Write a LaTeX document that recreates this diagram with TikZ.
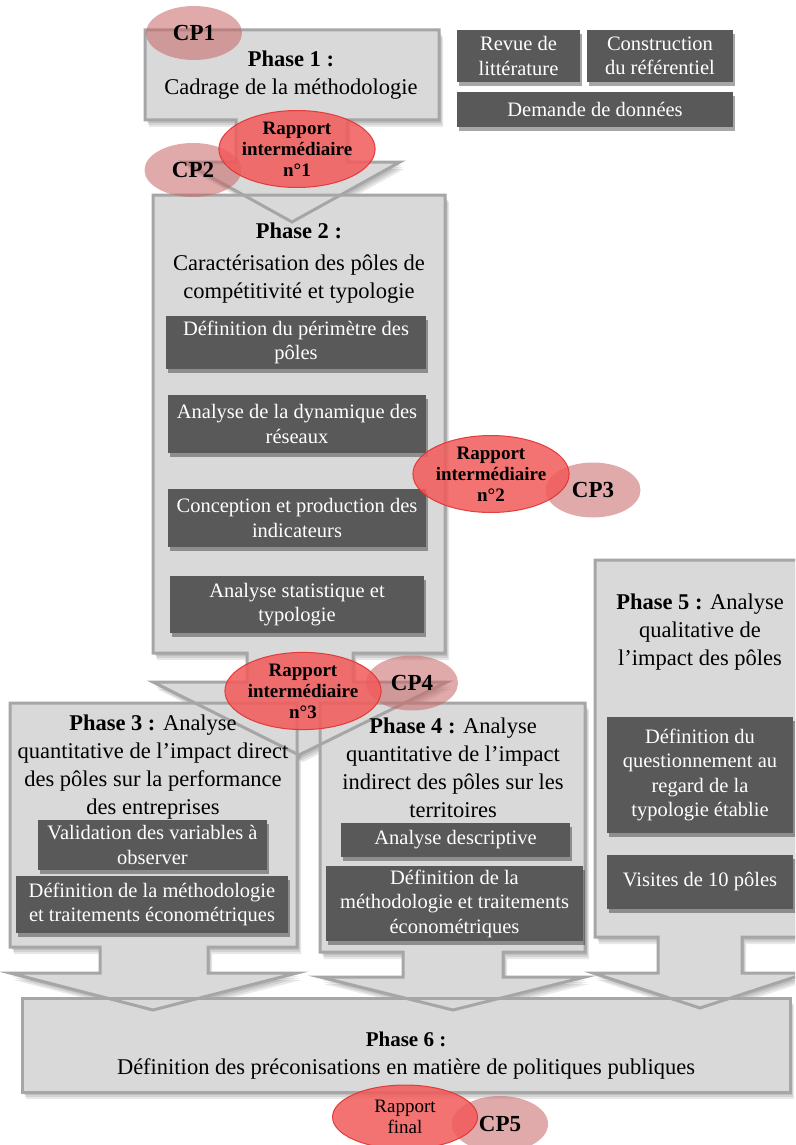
\documentclass[tikz,border=0pt]{standalone}
\usepackage{fontspec}
\setmainfont{Liberation Serif}
\usetikzlibrary{shapes.geometric,shadows}
\definecolor{shapefill}{HTML}{D9D9D9}
\definecolor{shapeline}{HTML}{A6A6A6}
\definecolor{darkfill}{HTML}{595959}
\definecolor{rapfill}{HTML}{F25A5A}
\definecolor{rapline}{HTML}{E3302F}
\definecolor{cpfill}{HTML}{C96565}
\newcommand\fbig{\fontsize{22.5}{28}\selectfont}
\newcommand\fdark{\fontsize{20.5}{24.5}\selectfont}
\newcommand\frap{\fontsize{19}{21}\selectfont\bfseries}
\newcommand\fcp{\fontsize{23}{26}\selectfont\bfseries}
% callout paths (px coordinates, y downwards)
\def\shA{(145,30) -- (439,30) -- (439,120) -- (347,120) -- (347,162) -- (400,162) -- (292,222) -- (184,162) -- (236,162) -- (236,120) -- (145,120) -- cycle}
\def\shB{(153,195) -- (445,195) -- (445,653) -- (353,653) -- (353,682) -- (447,682) -- (299,755) -- (153,682) -- (247,682) -- (247,653) -- (153,653) -- cycle}
\def\shC{(10,703) -- (297,703) -- (297,947) -- (208,947) -- (208,973) -- (297,973) -- (153,1010) -- (10,973) -- (100,973) -- (100,947) -- (10,947) -- cycle}
\def\shD{(320,703) -- (585,703) -- (585,952) -- (503,952) -- (503,977) -- (585,977) -- (453,1010) -- (320,977) -- (403,977) -- (403,952) -- (320,952) -- cycle}
\def\shE{(595,560) -- (805,560) -- (805,937) -- (742,937) -- (742,973) -- (807,973) -- (700,1008) -- (593,973) -- (658,973) -- (658,937) -- (595,937) -- cycle}
\def\shF{(22,998) -- (790,998) -- (790,1092) -- (22,1092) -- cycle}
\begin{document}
\begin{tikzpicture}[x=1pt,y=-1pt,
  shadowlayer/.style={fill=black, opacity=0.09},
  shapebg/.style={fill=shapefill},
  shapeln/.style={draw=shapeline, line width=3pt, line join=miter},
  darkbox/.style={fill=darkfill, text=white, align=center, inner sep=0pt, font=\fdark,
    drop shadow={shadow xshift=2pt, shadow yshift=-4pt, opacity=0.35, fill=black}},
  phasetext/.style={align=center, font=\fbig, inner sep=0pt, text=black},
  rapell/.style={ellipse, fill=rapfill, fill opacity=0.85, draw=rapline, draw opacity=0.9, line width=1pt, text opacity=1, inner sep=0pt, align=center, font=\frap},
  cpell/.style={ellipse, fill=cpfill, fill opacity=0.55, inner sep=0pt, text opacity=1, font=\fcp}
]
\useasboundingbox (0,0) rectangle (795,1145);
\clip (0,0) rectangle (795,1145);
\fill[white] (0,0) rectangle (795,1145);

% soft shadows of the big shapes
\foreach \dx/\dy in {2/3,3/5,4/7}{
  \fill[shadowlayer, shift={(\dx,\dy)}] \shA;
  \fill[shadowlayer, shift={(\dx,\dy)}] \shB;
  \fill[shadowlayer, shift={(\dx,\dy)}] \shC;
  \fill[shadowlayer, shift={(\dx,\dy)}] \shD;
  \fill[shadowlayer, shift={(\dx,\dy)}] \shE;
  \fill[shadowlayer, shift={(\dx,\dy)}] \shF;
}
% fills
\fill[shapebg] \shA;
\fill[shapebg] \shB;
\fill[shapebg] \shC;
\fill[shapebg] \shD;
\fill[shapebg] \shE;
\fill[shapebg] \shF;
% outlines
\draw[shapeln] \shA;
\draw[shapeln] \shB;
\draw[shapeln] \shC;
\draw[shapeln] \shD;
\draw[shapeln] \shE;
\draw[shapeln] \shF;

% phase texts
\node[phasetext] (p1) at (291,75) {\textbf{Phase 1 :}\\Cadrage de la méthodologie};
\node[phasetext] (p2) at (299,263) {\textbf{Phase 2 :}\\[4pt]Caractérisation des pôles de\\compétitivité et typologie};
\node[phasetext] (p3) at (153,767) {\textbf{Phase 3 :} Analyse\\quantitative de l’impact direct\\des pôles sur la performance\\des entreprises};
\node[phasetext] (p4) at (453,768) {\textbf{Phase 4 :} Analyse\\quantitative de l’impact\\indirect des pôles sur les\\territoires};
\node[phasetext] (p5) at (700,632) {\textbf{Phase 5 :} Analyse\\qualitative de\\l’impact des pôles};
\node[phasetext] (p6) at (406,1056) {{\fontsize{21}{28}\selectfont\bfseries Phase 6 :}\\Définition des préconisations en matière de politiques publiques};

% dark boxes
\node[darkbox, minimum width=123, minimum height=52] (revue) at (518.5,56) {Revue de\\littérature};
\node[darkbox, minimum width=146, minimum height=52] (constr) at (660,56) {Construction\\du référentiel};
\node[darkbox, minimum width=276, minimum height=35] (demande) at (595,109.5) {Demande de données};

\node[darkbox, minimum width=260, minimum height=53] (perim) at (296,342.5) {Définition du périmètre des\\pôles};
\node[darkbox, minimum width=258, minimum height=58] (dyn) at (297,424) {Analyse de la dynamique des\\réseaux};
\node[darkbox, minimum width=258, minimum height=58] (conc) at (297,518) {Conception et production des\\indicateurs};
\node[darkbox, minimum width=254, minimum height=57] (stat) at (297,604.5) {Analyse statistique et\\typologie};

\node[darkbox, minimum width=229, minimum height=50] (valid) at (152.5,845) {Validation des variables à\\observer};
\node[darkbox, minimum width=272, minimum height=57] (meth3) at (152,904.5) {Définition de la méthodologie\\et traitements économétriques};

\node[darkbox, minimum width=229, minimum height=34] (desc) at (455.5,840) {Analyse descriptive};
\node[darkbox, minimum width=257, minimum height=75] (meth4) at (454.5,903.5) {Définition de la\\méthodologie et traitements\\économétriques};

\node[darkbox, minimum width=186, minimum height=116] (quest) at (700,775) {Définition du\\questionnement au\\regard de la\\typologie établie};
\node[darkbox, minimum width=186, minimum height=54] (visit) at (700,882) {Visites de 10 pôles};

% CP ellipses
\node[cpell, minimum width=96, minimum height=54] (cp1) at (194,33) {CP1};
\node[cpell, minimum width=97, minimum height=54] (cp2) at (193,170) {CP2};
\node[cpell, minimum width=95, minimum height=55] (cp3) at (593,490) {CP3};
\node[cpell, minimum width=92, minimum height=55] (cp4) at (412,683) {CP4};
\node[cpell, minimum width=96, minimum height=56] (cp5) at (500,1124) {CP5};

% report ellipses
\node[rapell, minimum width=150, minimum height=66] (r1) at (297,149) {Rapport\\intermédiaire\\n°1};
\node[rapell, minimum width=152, minimum height=67] (r2) at (491,474) {Rapport\\intermédiaire\\n°2};
\node[rapell, minimum width=153, minimum height=66] (r3) at (303,691) {Rapport\\intermédiaire\\n°3};
\node[rapell, minimum width=145, minimum height=64, font=\fontsize{19}{21}\selectfont] (rf) at (405,1117) {Rapport\\final};
\end{tikzpicture}
\end{document}
